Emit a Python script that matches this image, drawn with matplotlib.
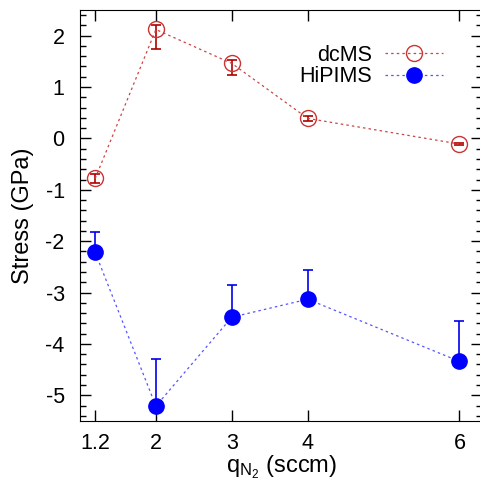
import numpy as np
import matplotlib.pyplot as plt
from matplotlib.ticker import MultipleLocator

plt.rcParams['font.family'] = ['Liberation Sans', 'DejaVu Sans']
plt.rcParams['axes.unicode_minus'] = False
plt.rcParams['mathtext.fontset'] = 'custom'
plt.rcParams['mathtext.rm'] = 'Liberation Sans'
plt.rcParams['mathtext.it'] = 'Liberation Sans'

### data
q_n2 = [1.2, 2, 3, 4, 6]
xticklabels = ['1.2', '2', '3', '4', '6']

dcms = [-0.78, 2.12, 1.46, 0.39, -0.11]
dcms_err_lo = [0.09, 0.37, 0.23, 0.05, 0.02]
dcms_err_hi = [0.09, 0.08, 0.06, 0.05, 0.02]

hipims = [-2.22, -5.21, -3.48, -3.13, -4.34]
hipims_err_hi = [0.39, 0.91, 0.62, 0.56, 0.78]
hipims_err_lo = [0, 0, 0, 0, 0]

### plot
fig = plt.figure(figsize=(4.8, 4.82), dpi=100)
ax = fig.add_axes([0.1667, 0.1266, 0.838, 0.8527])

ax.errorbar(q_n2, dcms, yerr=[dcms_err_lo, dcms_err_hi], fmt='none',
            ecolor='#b00000', elinewidth=1.2, capsize=3.5, capthick=1.2, zorder=3)
ax.plot(q_n2, dcms, ls=(0, (2, 2.5)), lw=0.9, color='#cc4444',
        marker='o', ms=11.5, mfc='none', mec='#cc3333', mew=1.0,
        label='dcMS', zorder=4)

ax.errorbar(q_n2, hipims, yerr=[hipims_err_lo, hipims_err_hi], fmt='none',
            ecolor='#0000ee', elinewidth=1.2, capsize=3.5, capthick=1.2, zorder=3)
ax.plot(q_n2, hipims, ls=(0, (2, 2.5)), lw=0.9, color='#5555ff',
        marker='o', ms=11, mfc='#0000ff', mec='#0000ff',
        label='HiPIMS', zorder=4)

ax.set_xlim(1.0, 6.3)
ax.set_ylim(-5.5, 2.5)
ax.set_xticks(q_n2)
ax.set_xticklabels(xticklabels)
ax.yaxis.set_major_locator(MultipleLocator(1))
ax.yaxis.set_minor_locator(MultipleLocator(0.2))
ax.tick_params(which='both', direction='in', top=True, right=True,
               labelsize=15.5, width=1)
ax.tick_params(which='major', length=8)
ax.tick_params(axis='x', which='major', pad=9)
ax.tick_params(axis='y', which='major', pad=11)
ax.tick_params(which='minor', length=4)
ax.spines['right'].set_visible(False)

ax.set_ylabel('Stress (GPa)', fontsize=17, labelpad=8)
ax.set_xlabel('q$_{\\mathregular{N_2}}$ (sccm)', fontsize=17, labelpad=-1)

leg = ax.legend(loc='upper right', bbox_to_anchor=(0.903, 0.915), frameon=False,
                fontsize=15.5, markerfirst=False, handlelength=2.7,
                handletextpad=0.6, labelspacing=0.02, borderpad=0,
                borderaxespad=0)
for t in leg.get_texts():
    t.set_ha('right')

fig.savefig('out.png', dpi=100)
